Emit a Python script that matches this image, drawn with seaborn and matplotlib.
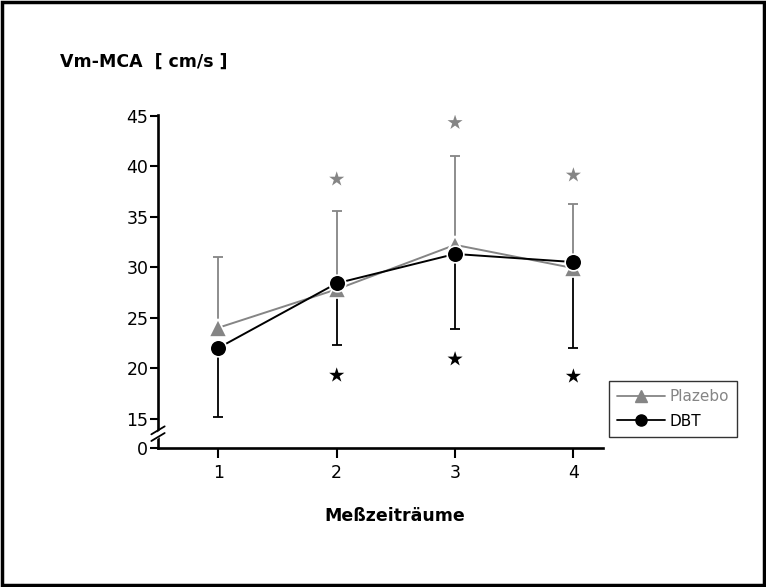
import numpy as np
import pandas as pd
import seaborn as sns
import matplotlib.pyplot as plt
from matplotlib.lines import Line2D
from matplotlib.patches import Rectangle

# ----------------------------------------------------------------
# DATA
# ----------------------------------------------------------------
zeitraum = [1, 2, 3, 4]
plazebo_mean = [24.0, 27.8, 32.2, 29.9]
plazebo_upper = [31.0, 35.6, 41.0, 36.2]
dbt_mean = [22.0, 28.4, 31.3, 30.5]
dbt_lower = [15.2, 22.3, 23.9, 22.0]

stern_x = [2, 3, 4]
plazebo_stern = [38.7, 44.3, 39.1]
dbt_stern = [19.3, 20.9, 19.2]

# broken axis: the "0" label sits just below 15
null_pos = 12.1
ytick_pos = [null_pos, 15, 20, 25, 30, 35, 40, 45]
ytick_labels = ["0", "15", "20", "25", "30", "35", "40", "45"]

grau = "#858585"
schwarz = "black"

df = pd.DataFrame({
    "zeitraum": zeitraum * 2,
    "wert": plazebo_mean + dbt_mean,
    "gruppe": ["Plazebo"] * 4 + ["DBT"] * 4,
})

# ----------------------------------------------------------------
# PLOT
# ----------------------------------------------------------------
sns.set_style("ticks")
plt.rcParams["font.family"] = ["DejaVu Sans"]
for key in ["text.color", "axes.labelcolor", "xtick.color", "ytick.color", "axes.edgecolor"]:
    plt.rcParams[key] = "black"

fig = plt.figure(figsize=(7.66, 5.87), dpi=100)
ax = fig.add_axes([158 / 766, 1 - 448 / 587, (603 - 158) / 766, (448 - 115) / 587])

# error bars: plazebo upward, DBT downward
pl_err = np.array(plazebo_upper) - np.array(plazebo_mean)
ax.errorbar(zeitraum, plazebo_mean, yerr=[np.zeros(4), pl_err], fmt="none",
            ecolor=grau, elinewidth=1.3, capsize=3.5, capthick=1.3, zorder=2)
dbt_err = np.array(dbt_mean) - np.array(dbt_lower)
ax.errorbar(zeitraum, dbt_mean, yerr=[dbt_err, np.zeros(4)], fmt="none",
            ecolor=schwarz, elinewidth=1.3, capsize=3.5, capthick=1.3, zorder=2)

sub = df[df.gruppe == "Plazebo"]
sns.lineplot(data=sub, x="zeitraum", y="wert", color=grau, marker="^",
             markersize=13, markeredgecolor="white", markeredgewidth=1.2,
             linewidth=1.4, ax=ax, zorder=3)
sub = df[df.gruppe == "DBT"]
sns.lineplot(data=sub, x="zeitraum", y="wert", color=schwarz, marker="o",
             markersize=12, markeredgecolor="white", markeredgewidth=1.2,
             linewidth=1.4, ax=ax, zorder=4)

# significance stars
sns.scatterplot(x=stern_x, y=plazebo_stern, marker="*", s=130, color=grau,
                edgecolor="none", ax=ax, zorder=5)
sns.scatterplot(x=stern_x, y=dbt_stern, marker="*", s=130, color=schwarz,
                edgecolor="none", ax=ax, zorder=5)

ax.set_xlim(0.49, 4.25)
ax.set_ylim(null_pos, 45.05)
ax.set_xticks(zeitraum)
ax.set_yticks(ytick_pos)
ax.set_yticklabels(ytick_labels)
ax.set_xlabel("")
ax.set_ylabel("")
sns.despine(ax=ax)
for s in ["left", "bottom"]:
    ax.spines[s].set_linewidth(1.9)
ax.tick_params(axis="y", length=6, width=1.5, labelsize=12.5, pad=1)
ax.tick_params(axis="x", length=7.5, width=1.5, labelsize=12.5, pad=4)

# axis break marks
bx, by = 0.0, 0.045
ax.plot([bx - 0.012, bx + 0.012], [by - 0.018, by + 0.005], transform=ax.transAxes,
        color="white", lw=4, clip_on=False, zorder=10)
for d in (-0.012, 0.008):
    ax.plot([bx - 0.015, bx + 0.015], [by + d - 0.012, by + d + 0.012],
            transform=ax.transAxes, color="black", lw=1.3, clip_on=False, zorder=11)

# legend
handles = [
    Line2D([], [], color=grau, marker="^", markersize=9, linewidth=1.3),
    Line2D([], [], color=schwarz, marker="o", markersize=8, linewidth=1.3),
]
leg = fig.legend(handles, ["Plazebo", "DBT"], loc="upper left",
                 bbox_to_anchor=(609 / 766, 1 - 381 / 587), frameon=True,
                 fancybox=False, edgecolor="black", fontsize=11,
                 handlelength=3.1, handletextpad=0.3, borderpad=0.55,
                 labelspacing=0.6, borderaxespad=0)
leg.get_frame().set_linewidth(1.0)
leg.get_texts()[0].set_color(grau)

# texts
fig.text(60 / 766, 1 - 62 / 587, "Vm-MCA  [ cm/s ]", fontsize=12.5,
         fontweight="bold", va="center", ha="left")
fig.text(395 / 766, 1 - 516 / 587, "Meßzeiträume", fontsize=12.5,
         fontweight="bold", va="center", ha="center")

# frame around the whole picture
fig.patches.append(Rectangle((0.002, 0.003), 0.995, 0.994, transform=fig.transFigure,
                             fill=False, edgecolor="black", linewidth=2.5))

fig.savefig("out.png", dpi=100)
